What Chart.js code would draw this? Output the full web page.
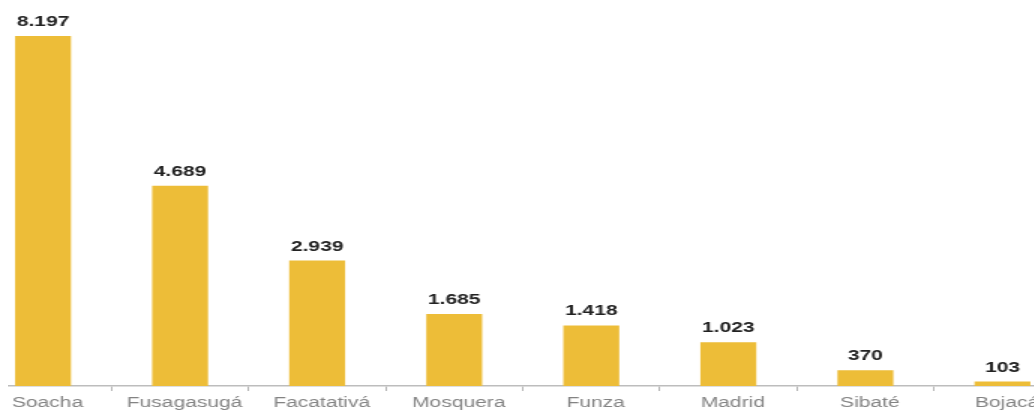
<!DOCTYPE html>
<html>
<head>
<meta charset="utf-8">
<script src="https://cdn.jsdelivr.net/npm/chart.js@4/dist/chart.umd.min.js"></script>
<style>
  html, body { margin: 0; padding: 0; background: #fff; width: 1034px; height: 412px; overflow: hidden; }
  #clip { position: absolute; left: 8px; top: 0; width: 1026px; height: 412px; overflow: hidden; }
  #stretch { position: absolute; left: 0; top: 0; transform-origin: 0 0; transform: translateX(-33.5px) scaleX(1.5); }
</style>
</head>
<body>
<div id="clip"><div id="stretch"><canvas id="c" width="731" height="412"></canvas></div></div>
<script>
const categories = ["Soacha", "Fusagasugá", "Facatativá", "Mosquera", "Funza", "Madrid", "Sibaté", "Bojacá"];
const values = [8197, 4689, 2939, 1685, 1418, 1023, 370, 103];

function fmt(v) {
  return String(v).replace(/\B(?=(\d{3})+(?!\d))/g, ".");
}

const valueLabels = {
  id: 'valueLabels',
  afterDatasetsDraw(chart) {
    const ctx = chart.ctx;
    const meta = chart.getDatasetMeta(0);
    ctx.save();
    ctx.font = 'bold 14px "Liberation Sans", Arial, sans-serif';
    ctx.fillStyle = '#222222';
    ctx.textAlign = 'center';
    ctx.textBaseline = 'alphabetic';
    meta.data.forEach((bar, i) => {
      ctx.fillText(fmt(chart.data.datasets[0].data[i]), bar.x, bar.y - 10);
    });
    ctx.restore();
  }
};

new Chart(document.getElementById('c'), {
  type: 'bar',
  data: {
    labels: categories,
    datasets: [{
      data: values,
      backgroundColor: '#EDBD38',
      borderWidth: 0,
      barPercentage: 0.408,
      categoryPercentage: 1.0
    }]
  },
  options: {
    responsive: false,
    animation: false,
    devicePixelRatio: 1,
    layout: { padding: 0 },
    plugins: { legend: { display: false }, tooltip: { enabled: false } },
    scales: {
      x: {
        afterFit(scale) { scale.height = 26; },
        grid: { offset: true, drawOnChartArea: false, drawTicks: true, tickLength: 5, color: '#b5b5b5' },
        border: { display: true, color: '#bdbdbd', width: 1.5 },
        ticks: {
          color: '#838383',
          font: { family: '"Liberation Sans", Arial, sans-serif', size: 14 },
          padding: 4,
          labelOffset: 3,
          maxRotation: 0,
          autoSkip: false
        }
      },
      y: {
        display: false,
        min: 0,
        max: 9040
      }
    }
  },
  plugins: [valueLabels]
});
</script>
</body>
</html>
